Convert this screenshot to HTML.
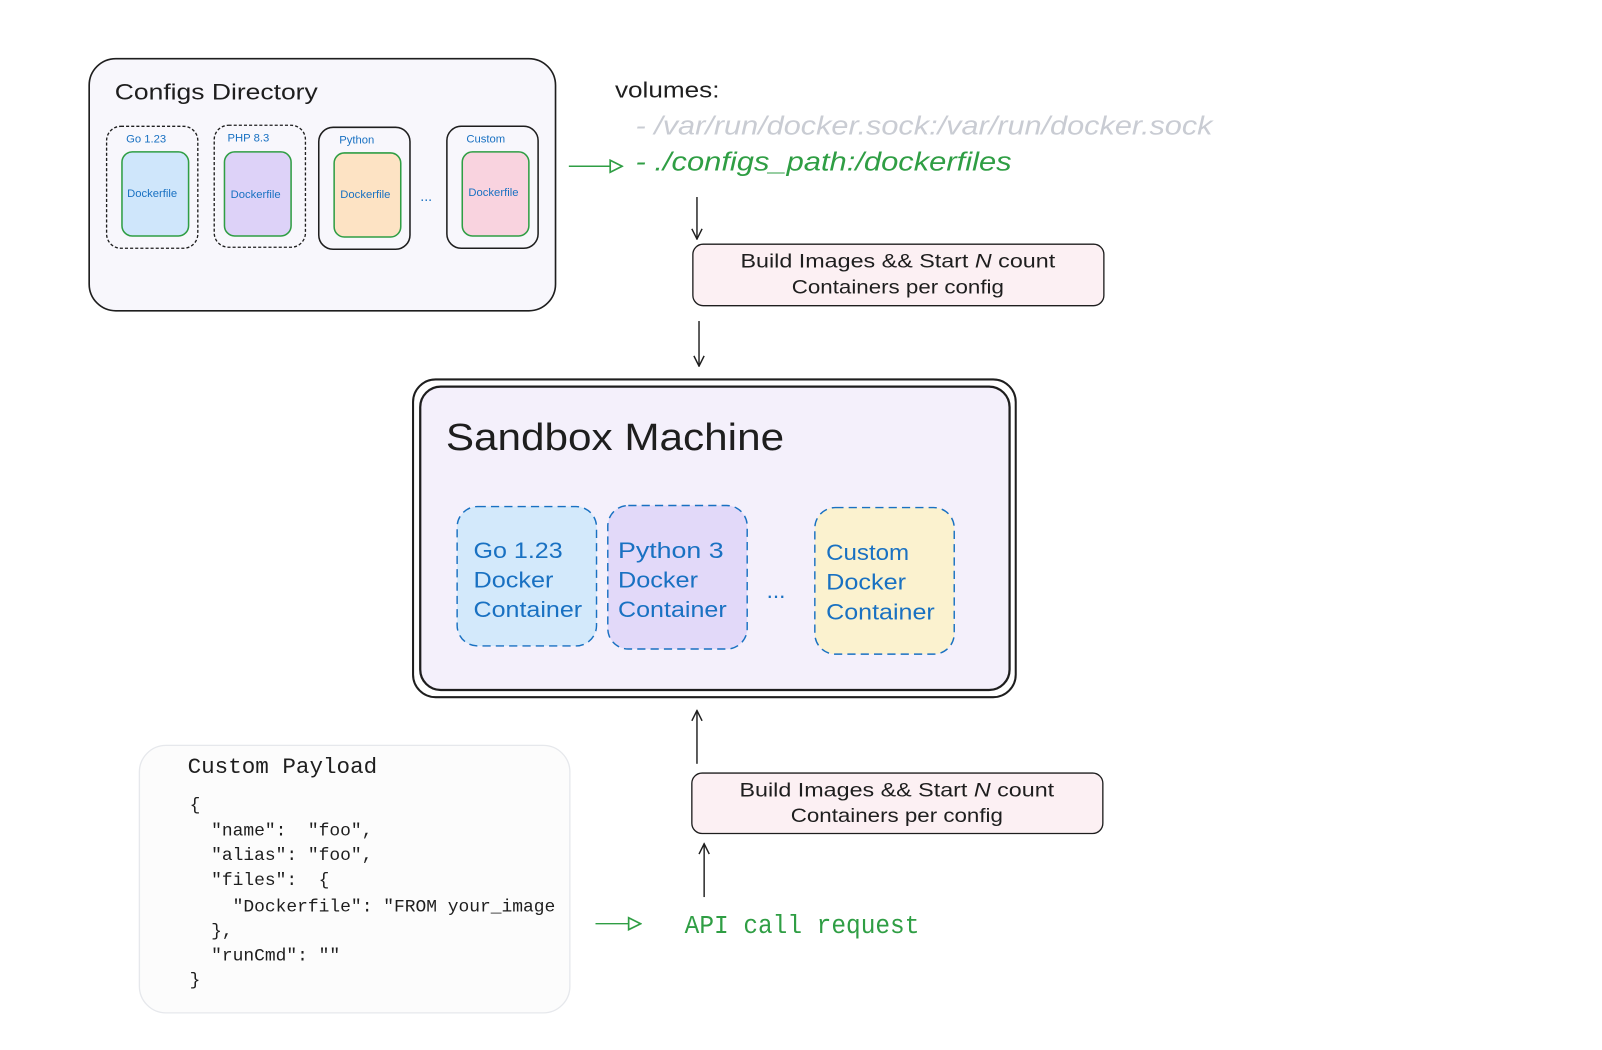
<!DOCTYPE html>
<html><head><meta charset="utf-8"><style>
html,body{margin:0;padding:0;background:#fff;}
svg{display:block;}
.h{font-family:"Liberation Sans",sans-serif;}
.m{font-family:"Liberation Mono",monospace;}
.pre text{white-space:pre;}
</style></head><body>
<svg width="1602" height="1050" viewBox="0 0 1563 1024" xmlns="http://www.w3.org/2000/svg">
<defs>
<marker id="a" viewBox="0 0 12 12" refX="11" refY="6" markerWidth="12" markerHeight="12" markerUnits="userSpaceOnUse" orient="auto"><path d="M1,1 L11,6 L1,11" fill="none" stroke="#1e1e1e" stroke-width="1.4"/></marker>
<marker id="g" viewBox="0 0 12 12" refX="11" refY="6" markerWidth="14" markerHeight="14" markerUnits="userSpaceOnUse" orient="auto"><path d="M1,1 L11,6 L1,11 Z" fill="#fff" stroke="#2f9e44" stroke-width="1.4"/></marker>
</defs>

<!-- Configs Directory -->
<rect x="87" y="57" width="455" height="246" rx="26" fill="#f8f7fc" stroke="#1e1e1e" stroke-width="1.6"/>
<text x="112" y="97" class="h" font-size="22" fill="#1e1e1e" textLength="198" lengthAdjust="spacingAndGlyphs">Configs Directory</text>
<g font-size="11" class="h" fill="#1971c2">
<rect x="104" y="123" width="89" height="119" rx="14" fill="#f8f7fc" stroke="#1e1e1e" stroke-dasharray="3 2" stroke-width="1.3"/>
<rect x="119" y="148" width="65" height="82" rx="10" fill="#cfe6fb" stroke="#2f9e44" stroke-width="1.5"/>
<text x="123" y="139">Go 1.23</text><text x="124" y="192">Dockerfile</text>
<rect x="209" y="122" width="89" height="119" rx="14" fill="#f8f7fc" stroke="#1e1e1e" stroke-dasharray="3 2" stroke-width="1.3"/>
<rect x="219" y="148" width="65" height="82" rx="10" fill="#ddd2f8" stroke="#2f9e44" stroke-width="1.5"/>
<text x="222" y="138">PHP 8.3</text><text x="225" y="193">Dockerfile</text>
<rect x="311" y="124" width="89" height="119" rx="14" fill="#f8f7fc" stroke="#1e1e1e" stroke-width="1.5"/>
<rect x="326" y="149" width="65" height="82" rx="10" fill="#fde3c4" stroke="#2f9e44" stroke-width="1.5"/>
<text x="331" y="140">Python</text><text x="332" y="193">Dockerfile</text>
<text x="410" y="196" font-size="14">...</text>
<rect x="436" y="123" width="89" height="119" rx="14" fill="#f8f7fc" stroke="#1e1e1e" stroke-width="1.5"/>
<rect x="451" y="148" width="65" height="82" rx="10" fill="#f9d3df" stroke="#2f9e44" stroke-width="1.5"/>
<text x="455" y="139">Custom</text><text x="457" y="191">Dockerfile</text>
</g>

<!-- volumes -->
<text x="600" y="95" class="h" font-size="22" fill="#1e1e1e" textLength="102" lengthAdjust="spacingAndGlyphs">volumes:</text>
<text x="620" y="131" class="h" font-size="25" fill="#c9ccd3" font-style="italic" textLength="563" lengthAdjust="spacingAndGlyphs">- /var/run/docker.sock:/var/run/docker.sock</text>
<text x="620" y="166" class="h" font-size="25" fill="#2f9e44" font-style="italic" textLength="367" lengthAdjust="spacingAndGlyphs">- ./configs_path:/dockerfiles</text>
<line x1="555" y1="162" x2="607" y2="162" stroke="#2f9e44" stroke-width="1.4" marker-end="url(#g)"/>

<line x1="680" y1="192" x2="680" y2="233" stroke="#1e1e1e" stroke-width="1.4" marker-end="url(#a)"/>
<rect x="676" y="238" width="401" height="60" rx="10" fill="#fcf0f3" stroke="#1e1e1e" stroke-width="1.3"/>
<text x="876" y="261" text-anchor="middle" class="h" font-size="19" fill="#1e1e1e" textLength="307" lengthAdjust="spacingAndGlyphs">Build Images &amp;&amp; Start <tspan font-style="italic">N</tspan> count</text>
<text x="876" y="286" text-anchor="middle" class="h" font-size="19" fill="#1e1e1e" textLength="207" lengthAdjust="spacingAndGlyphs">Containers per config</text>
<line x1="682" y1="313" x2="682" y2="357" stroke="#1e1e1e" stroke-width="1.4" marker-end="url(#a)"/>

<!-- Sandbox -->
<rect x="403" y="370" width="588" height="310" rx="22" fill="none" stroke="#1e1e1e" stroke-width="2"/>
<rect x="410" y="377" width="575" height="296" rx="20" fill="#f4f0fb" stroke="#1e1e1e" stroke-width="2.2"/>
<text x="435" y="439" class="h" font-size="37" fill="#1e1e1e" textLength="330" lengthAdjust="spacingAndGlyphs">Sandbox Machine</text>
<g class="h" font-size="22" fill="#1971c2">
<rect x="446" y="494" width="136" height="136" rx="20" fill="#d3e9fb" stroke="#1971c2" stroke-dasharray="8 5" stroke-width="1.4"/>
<text x="462" y="544" textLength="87" lengthAdjust="spacingAndGlyphs">Go 1.23</text><text x="462" y="573" textLength="78" lengthAdjust="spacingAndGlyphs">Docker</text><text x="462" y="602" textLength="106" lengthAdjust="spacingAndGlyphs">Container</text>
<rect x="593" y="493" width="136" height="140" rx="20" fill="#e2d9f9" stroke="#1971c2" stroke-dasharray="8 5" stroke-width="1.4"/>
<text x="603" y="544" textLength="103" lengthAdjust="spacingAndGlyphs">Python 3</text><text x="603" y="573" textLength="78" lengthAdjust="spacingAndGlyphs">Docker</text><text x="603" y="602" textLength="106" lengthAdjust="spacingAndGlyphs">Container</text>
<text x="748" y="583">...</text>
<rect x="795" y="495" width="136" height="143" rx="20" fill="#fbf2cf" stroke="#1971c2" stroke-dasharray="8 5" stroke-width="1.4"/>
<text x="806" y="546" textLength="81" lengthAdjust="spacingAndGlyphs">Custom</text><text x="806" y="575" textLength="78" lengthAdjust="spacingAndGlyphs">Docker</text><text x="806" y="604" textLength="106" lengthAdjust="spacingAndGlyphs">Container</text>
</g>

<line x1="680" y1="745" x2="680" y2="693" stroke="#1e1e1e" stroke-width="1.4" marker-end="url(#a)"/>
<rect x="675" y="754" width="401" height="59" rx="10" fill="#fcf0f3" stroke="#1e1e1e" stroke-width="1.3"/>
<text x="875" y="777" text-anchor="middle" class="h" font-size="19" fill="#1e1e1e" textLength="307" lengthAdjust="spacingAndGlyphs">Build Images &amp;&amp; Start <tspan font-style="italic">N</tspan> count</text>
<text x="875" y="802" text-anchor="middle" class="h" font-size="19" fill="#1e1e1e" textLength="207" lengthAdjust="spacingAndGlyphs">Containers per config</text>
<line x1="687" y1="875" x2="687" y2="823" stroke="#1e1e1e" stroke-width="1.4" marker-end="url(#a)"/>

<text x="668" y="910" class="m" font-size="25" fill="#2f9e44" textLength="229" lengthAdjust="spacingAndGlyphs">API call request</text>
<line x1="581" y1="901" x2="625" y2="901" stroke="#2f9e44" stroke-width="1.4" marker-end="url(#g)"/>

<!-- Payload -->
<rect x="136" y="727" width="420" height="261" rx="26" fill="#fcfcfc" stroke="#e6e8ec" stroke-width="1.3"/>
<text x="183" y="754" class="m" font-size="22" fill="#1e1e1e" textLength="185" lengthAdjust="spacingAndGlyphs">Custom Payload</text>
<g class="m pre" font-size="17.5" fill="#1e1e1e">
<text x="185" y="790">{</text>
<text x="185" y="815">  "name":  "foo",</text>
<text x="185" y="839">  "alias": "foo",</text>
<text x="185" y="863">  "files":  {</text>
<text x="185" y="889">    "Dockerfile": "FROM your_image</text>
<text x="185" y="913">  },</text>
<text x="185" y="937">  "runCmd": ""</text>
<text x="185" y="961">}</text>
</g>
</svg>
</body></html>
